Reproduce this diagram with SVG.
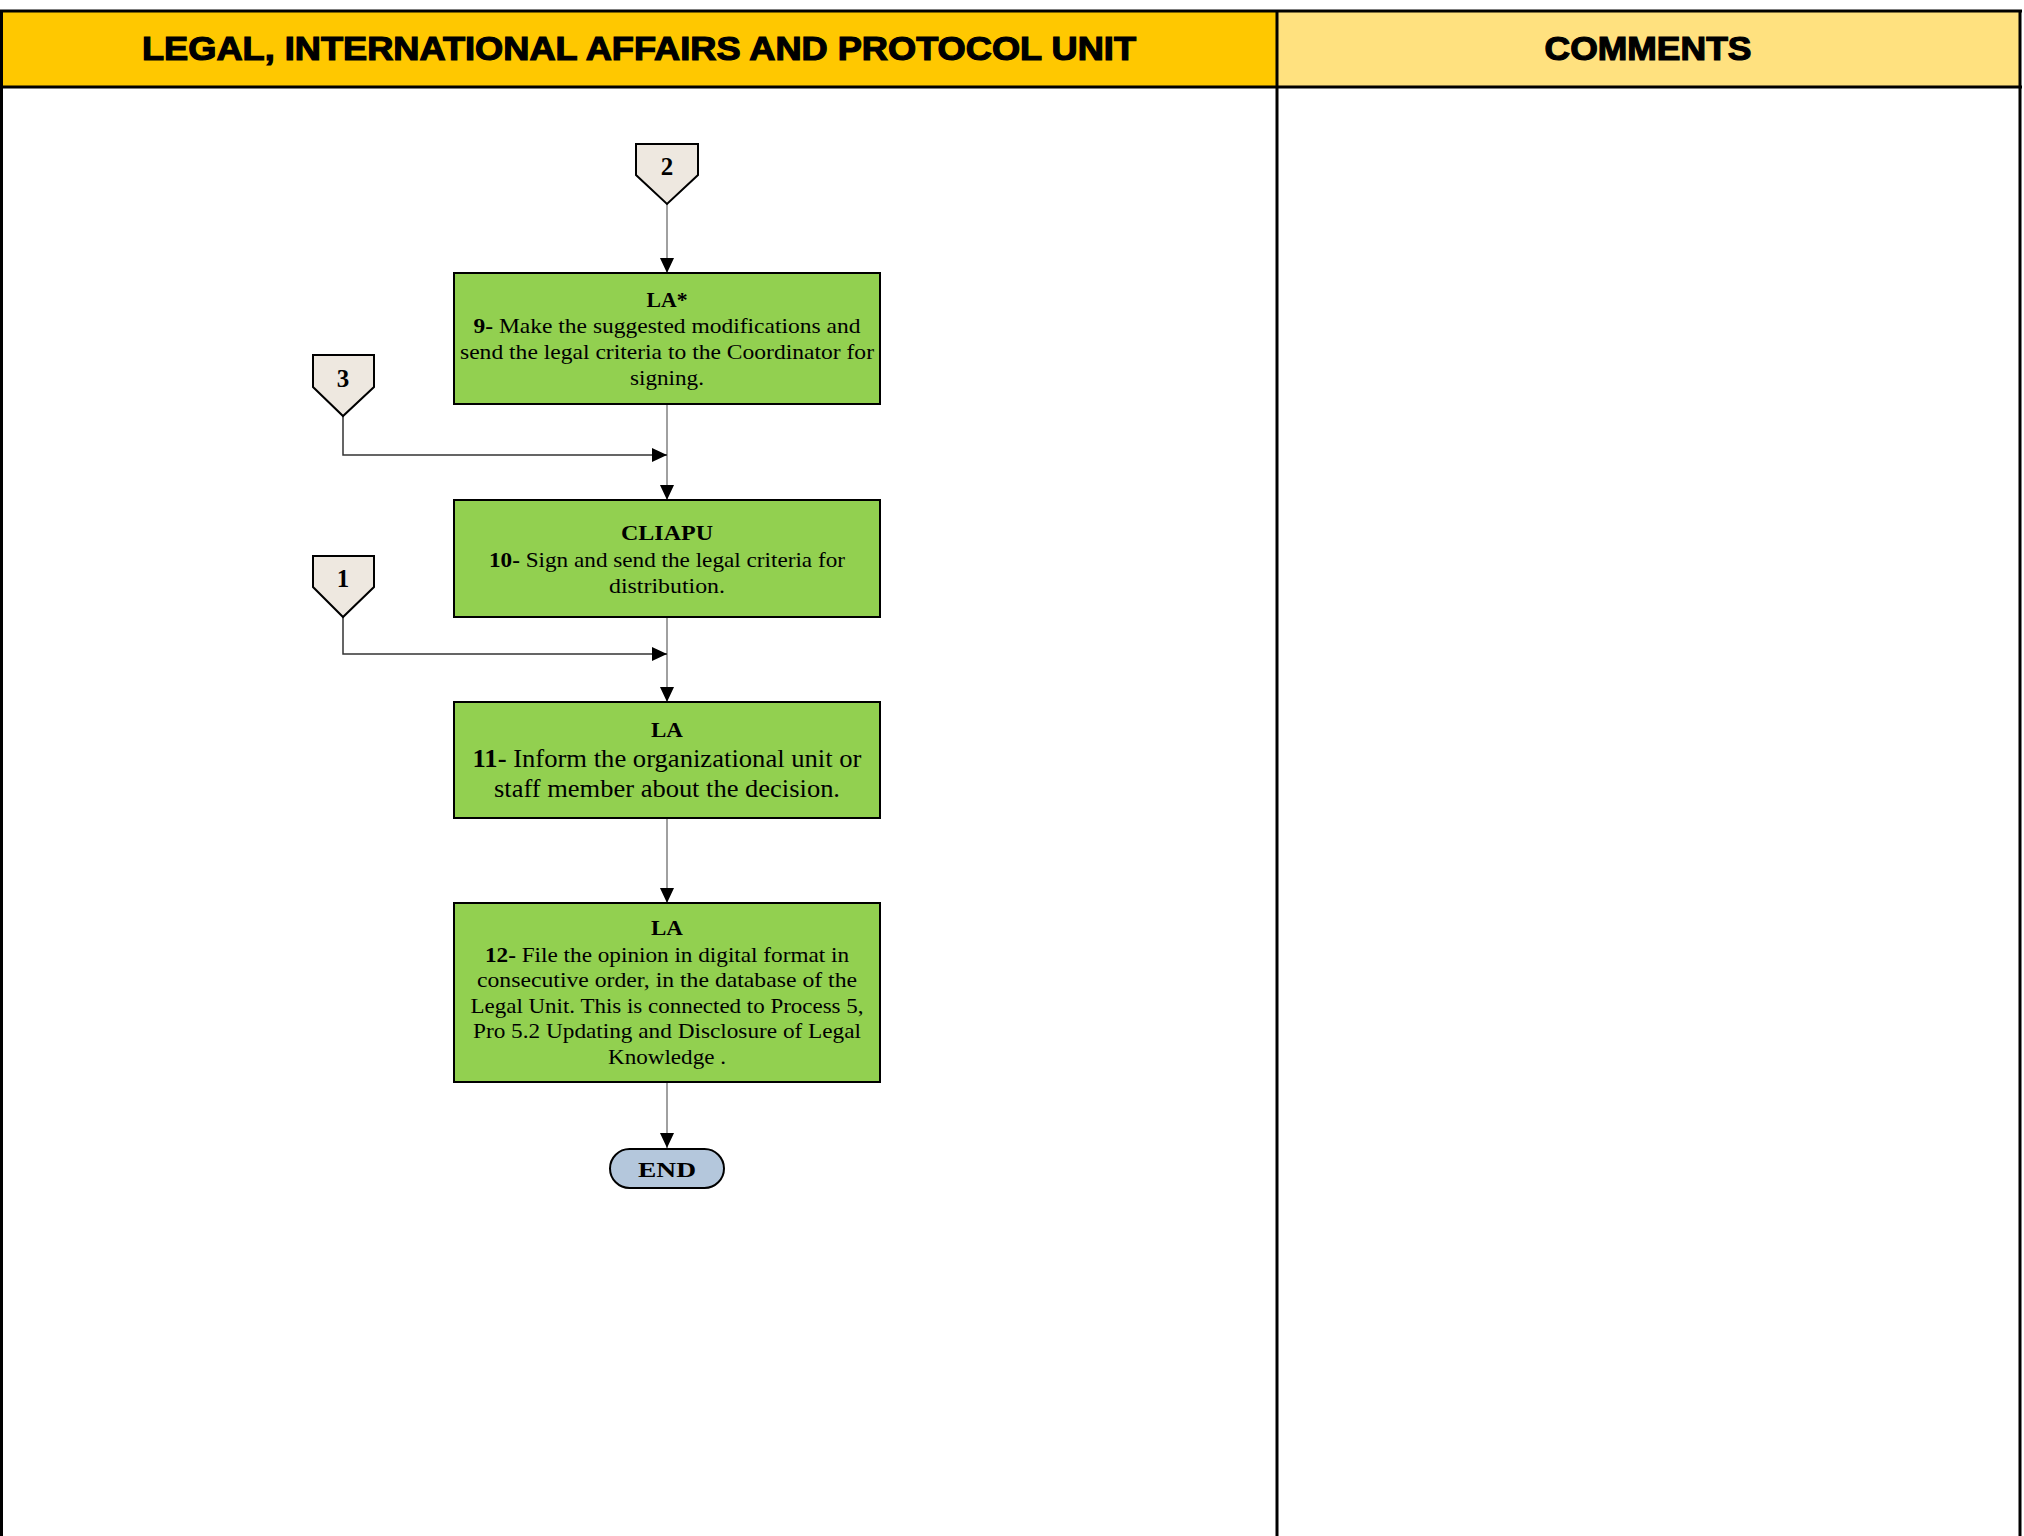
<svg xmlns="http://www.w3.org/2000/svg" width="2024" height="1536" viewBox="0 0 2024 1536">
<style>
.hdr{font-family:"Liberation Sans",Arial,sans-serif;font-weight:bold;font-size:33px;fill:#000;stroke:#000;stroke-width:1.2;text-anchor:middle}
.box{fill:#92D050;stroke:#000;stroke-width:2}
.t{font-family:"Liberation Serif","Times New Roman",serif;font-size:22px;fill:#000;text-anchor:middle}
.t11{font-size:25px}
.b{font-weight:bold}
.conn{fill:#EEE8E0;stroke:#000;stroke-width:2}
.num{font-family:"Liberation Serif","Times New Roman",serif;font-size:25px;font-weight:bold;fill:#000;text-anchor:middle}
.v{fill:none;stroke:#808080;stroke-width:1.5}
.h{fill:none;stroke:#333;stroke-width:1.5}
</style>
<defs>
<marker id="arr" markerUnits="userSpaceOnUse" markerWidth="16" markerHeight="16" viewBox="0 0 16 16" refX="15" refY="8" orient="auto">
<path d="M0,1 L15,8 L0,15 Z" fill="#000"/>
</marker>
</defs>
<rect width="2024" height="1536" fill="#fff"/>
<g id="header">
<rect x="1" y="11" width="1276" height="76" fill="#FFC800"/>
<rect x="1277" y="11" width="743" height="76" fill="#FFE17F"/>
<line x1="0" y1="11" x2="2022" y2="11" stroke="#000" stroke-width="3"/>
<line x1="0" y1="87" x2="2022" y2="87" stroke="#000" stroke-width="3"/>
<line x1="1.5" y1="11" x2="1.5" y2="1536" stroke="#000" stroke-width="3"/>
<line x1="1277" y1="11" x2="1277" y2="1536" stroke="#000" stroke-width="3"/>
<line x1="2020" y1="11" x2="2020" y2="1536" stroke="#000" stroke-width="3"/>
<text class="hdr" x="639" y="60" textLength="994" lengthAdjust="spacingAndGlyphs">LEGAL, INTERNATIONAL AFFAIRS AND PROTOCOL UNIT</text>
<text class="hdr" x="1648" y="60" textLength="207" lengthAdjust="spacingAndGlyphs">COMMENTS</text>
</g>
<g id="connectors">
<line class="v" x1="667" y1="204" x2="667" y2="273" marker-end="url(#arr)"/>
<line class="v" x1="667" y1="404" x2="667" y2="500" marker-end="url(#arr)"/>
<polyline class="h" points="343,416 343,455 667,455" marker-end="url(#arr)"/>
<line class="v" x1="667" y1="617" x2="667" y2="702" marker-end="url(#arr)"/>
<polyline class="h" points="343,617 343,654 667,654" marker-end="url(#arr)"/>
<line class="v" x1="667" y1="818" x2="667" y2="903" marker-end="url(#arr)"/>
<line class="v" x1="667" y1="1082" x2="667" y2="1148" marker-end="url(#arr)"/>
</g>
<g id="conn2">
<path class="conn" d="M636,144 H698 V175 L667,204 L636,175 Z"/>
<text class="num" x="667" y="175">2</text>
</g>
<g id="conn3">
<path class="conn" d="M313,355 H374 V387 L343,416 L313,387 Z"/>
<text class="num" x="343" y="387">3</text>
</g>
<g id="conn1">
<path class="conn" d="M313,556 H374 V587 L343,617 L313,587 Z"/>
<text class="num" x="343" y="587">1</text>
</g>
<g id="step9">
<rect class="box" x="454" y="273" width="426" height="131"/>
<text class="t b" x="667" y="307" font-size="23px" textLength="41" lengthAdjust="spacingAndGlyphs">LA*</text>
<text class="t" x="667" y="333" textLength="387" lengthAdjust="spacingAndGlyphs"><tspan class="b">9-</tspan> Make the suggested modifications and</text>
<text class="t" x="667" y="359" textLength="414" lengthAdjust="spacingAndGlyphs">send the legal criteria to the Coordinator for</text>
<text class="t" x="667" y="385" textLength="74" lengthAdjust="spacingAndGlyphs">signing.</text>
</g>
<g id="step10">
<rect class="box" x="454" y="500" width="426" height="117"/>
<text class="t b" x="667" y="540" font-size="23px" textLength="92" lengthAdjust="spacingAndGlyphs">CLIAPU</text>
<text class="t" x="667" y="567" textLength="356" lengthAdjust="spacingAndGlyphs"><tspan class="b">10-</tspan> Sign and send the legal criteria for</text>
<text class="t" x="667" y="593" textLength="116" lengthAdjust="spacingAndGlyphs">distribution.</text>
</g>
<g id="step11">
<rect class="box" x="454" y="702" width="426" height="116"/>
<text class="t b" x="667" y="737" font-size="23px" textLength="32" lengthAdjust="spacingAndGlyphs">LA</text>
<text class="t t11" x="667" y="767" textLength="389" lengthAdjust="spacingAndGlyphs"><tspan class="b">11-</tspan> Inform the organizational unit or</text>
<text class="t t11" x="667" y="797" textLength="346" lengthAdjust="spacingAndGlyphs">staff member about the decision.</text>
</g>
<g id="step12">
<rect class="box" x="454" y="903" width="426" height="179"/>
<text class="t b" x="667" y="935" font-size="23px" textLength="32" lengthAdjust="spacingAndGlyphs">LA</text>
<text class="t" x="667" y="962" textLength="364" lengthAdjust="spacingAndGlyphs"><tspan class="b">12-</tspan> File the opinion in digital format in</text>
<text class="t" x="667" y="987" textLength="380" lengthAdjust="spacingAndGlyphs">consecutive order, in the database of the</text>
<text class="t" x="667" y="1013" textLength="393" lengthAdjust="spacingAndGlyphs">Legal Unit. This is connected to Process 5,</text>
<text class="t" x="667" y="1038" textLength="388" lengthAdjust="spacingAndGlyphs">Pro 5.2 Updating and Disclosure of Legal</text>
<text class="t" x="667" y="1064" textLength="118" lengthAdjust="spacingAndGlyphs">Knowledge .</text>
</g>
<g id="end">
<rect x="610" y="1149" width="114" height="39" rx="19.5" fill="#B4C7DC" stroke="#000" stroke-width="2"/>
<text class="t b" x="667" y="1177" font-size="26px" textLength="58" lengthAdjust="spacingAndGlyphs">END</text>
</g>
</svg>
